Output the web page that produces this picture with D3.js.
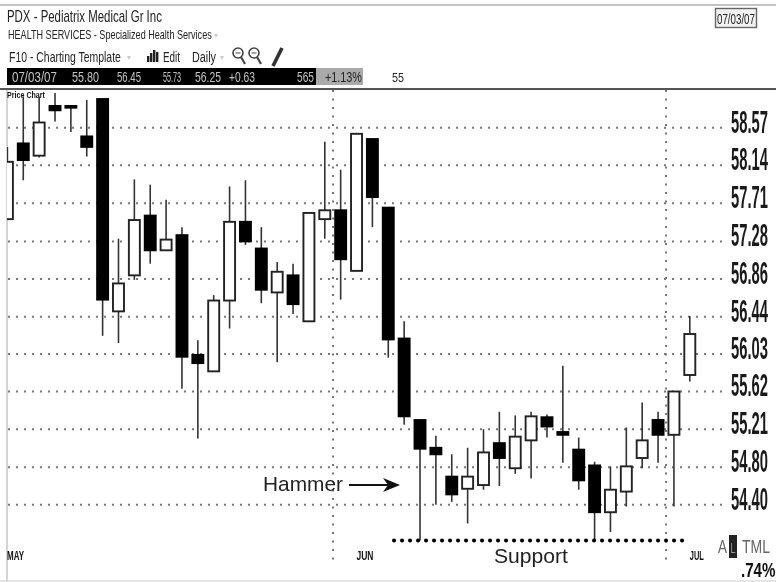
<!DOCTYPE html>
<html>
<head>
<meta charset="utf-8">
<script src="https://cdn.jsdelivr.net/npm/d3@7"></script>
<style>
    html, body { margin: 0; padding: 0; background: #fff; }
    svg { display: block; filter: blur(0.45px); }
</style>
</head>
<body>
<div id="chart"></div>
<script>
// Trading days shown, May 2 to Jul 3 2007
const days = ['05/02','05/03','05/04','05/07','05/08','05/09','05/10','05/11','05/14','05/15','05/16',
    '05/17','05/18','05/21','05/22','05/23','05/24','05/25','05/29','05/30','05/31',
    '06/01','06/04','06/05','06/06','06/07','06/08','06/11','06/12','06/13','06/14','06/15',
    '06/18','06/19','06/20','06/21','06/22','06/25','06/26','06/27','06/28','06/29',
    '07/02','07/03'];
const opens = [57.53,58.39,58.25,58.82,58.82,58.47,58.90,56.50,56.90,57.57,57.18,57.35,56.02,55.84,56.62,57.50,
    57.20,56.71,56.90,56.39,57.53,57.63,56.95,58.44,57.66,56.20,55.31,55.01,54.70,54.57,54.61,55.06,
    54.79,55.09,55.34,55.18,54.99,54.82,54.32,54.54,54.90,55.31,55.15,55.80];
const highs = [58.35,58.93,58.93,58.97,58.82,58.89,58.90,57.31,57.98,57.92,57.75,57.44,56.18,56.68,57.90,57.97,
    57.44,57.05,57.03,57.60,58.41,58.09,58.51,58.44,57.66,56.39,55.31,55.14,54.94,55.01,55.21,55.40,
    55.36,55.40,55.37,55.90,55.12,54.86,54.81,55.23,55.50,55.40,55.62,56.45];
const lows = [57.53,57.97,58.23,58.64,58.52,58.24,56.23,56.15,56.85,57.03,57.18,55.65,55.11,55.84,56.31,57.24,
    56.59,55.94,56.47,56.39,57.31,56.63,56.95,57.44,55.99,55.26,54.02,54.40,54.43,54.20,54.56,54.60,
    54.73,54.68,55.12,54.85,54.56,54.02,54.11,54.38,54.79,54.85,54.38,55.73];
const closes = [58.18,58.20,58.63,58.77,58.80,58.35,56.63,56.81,57.52,57.18,57.30,56.00,55.93,56.62,57.50,57.28,
    56.74,56.94,56.58,57.60,57.63,57.08,58.50,57.78,56.19,55.35,55.00,54.94,54.51,54.70,54.96,54.90,
    55.13,55.35,55.24,55.15,54.66,54.32,54.56,54.81,55.09,55.15,55.62,56.25];

const priceTicks = [58.57,58.14,57.71,57.28,56.86,56.44,56.03,55.62,55.21,54.80,54.40];
const monthLabels = ['MAY','JUN','JUL'];
const monthLabelDays = ['05/02','06/04','07/03'];
const monthEnds = ['05/31','06/29'];   // separator sits right after these days
const supportLevel = 54.02;

const width = 776, height = 582;
const plotLeft = 7, gridRight = 725;

const svg = d3.select('#chart').append('svg')
    .attr('width', width)
    .attr('height', height);

const x = d3.scalePoint().domain(days).range([7.4, 689.8]);
const y = d3.scaleLog().domain([54.40, 58.57]).range([504.7, 127.7]);

svg.append('defs').append('clipPath').attr('id', 'plot')
    .append('rect').attr('x', plotLeft).attr('y', 90).attr('width', width - plotLeft).attr('height', 490);

// Squeezed text, the original fonts are very condensed. Scale to the wanted width.
function label(px, py, str, size, len, opts = {}) {
    const t = svg.append('text')
        .attr('font-family', 'Liberation Sans, Arial, sans-serif')
        .attr('font-size', size)
        .attr('font-weight', opts.weight || 'normal')
        .attr('fill', opts.fill || '#222')
        .text(str);
    const sx = len ? len / t.node().getComputedTextLength() : 1;
    t.attr('transform', `translate(${px},${py}) scale(${sx},1)`);
    return t;
}

// Frame
svg.append('line').attr('x1', 0).attr('x2', width).attr('y1', 5).attr('y2', 5)
    .attr('stroke', '#888').attr('stroke-width', 1);
svg.append('line').attr('x1', plotLeft).attr('x2', plotLeft).attr('y1', 90).attr('y2', 581)
    .attr('stroke', '#aaa').attr('stroke-width', 1);
svg.append('line').attr('x1', 0).attr('x2', width).attr('y1', 581).attr('y2', 581)
    .attr('stroke', '#ccc').attr('stroke-width', 1);

// Header
label(7, 22, 'PDX - Pediatrix Medical Gr Inc', 16, 155);
label(8, 39, 'HEALTH SERVICES - Specialized Health Services', 12, 204);
label(9, 62, 'F10 - Charting Template', 14, 112);
label(163, 62, 'Edit', 14, 17);
label(192, 62, 'Daily', 14, 24);
label(214, 38, '▾', 8, null, { fill: '#ccc' });
label(127, 60, '▾', 8, null, { fill: '#ccc' });
label(220, 60, '▾', 8, null, { fill: '#ccc' });

// Toolbar icons
[[147, 6], [150, 9], [153, 12], [156, 10]].forEach(d => {
    svg.append('rect').attr('x', d[0]).attr('y', 62 - d[1]).attr('width', 2.4).attr('height', d[1])
        .attr('fill', '#222');
});
[238, 254].forEach(cx => {
    svg.append('circle').attr('cx', cx).attr('cy', 53).attr('r', 5)
        .attr('fill', 'none').attr('stroke', '#444').attr('stroke-width', 1.6);
    svg.append('line').attr('x1', cx + 3).attr('y1', 57).attr('x2', cx + 7).attr('y2', 64)
        .attr('stroke', '#444').attr('stroke-width', 2.2);
    svg.append('line').attr('x1', cx - 2.5).attr('y1', 53).attr('x2', cx + 2.5).attr('y2', 53)
        .attr('stroke', '#444').attr('stroke-width', 1);
});
svg.append('line').attr('x1', 273).attr('y1', 66).attr('x2', 282).attr('y2', 48)
    .attr('stroke', '#333').attr('stroke-width', 3.6);

// Date box
svg.append('rect').attr('x', 715.5).attr('y', 8.5).attr('width', 41).attr('height', 19)
    .attr('fill', '#f2f2f2').attr('stroke', '#666').attr('stroke-width', 1.4);
label(717, 24, '07/03/07', 15, 38);

// Quote strip
svg.append('rect').attr('x', 7).attr('y', 68).attr('width', 309).attr('height', 17).attr('fill', '#000');
svg.append('rect').attr('x', 316).attr('y', 68).attr('width', 47).attr('height', 17).attr('fill', '#aaa');
const quoteTexts = [
    [12, '07/03/07', 45], [72, '55.80', 27], [117, '56.45', 24], [163, '55.73', 18],
    [195, '56.25', 26], [229, '+0.63', 26], [297, '565', 17]
];
quoteTexts.forEach(d => label(d[0], 82, d[1], 14, d[2], { fill: '#c4c4c4' }));
label(325, 82, '+1.13%', 14, 37, { fill: '#222' });
label(392, 82, '55', 13, 12);

svg.append('line').attr('x1', 0).attr('x2', width).attr('y1', 89).attr('y2', 89)
    .attr('stroke', '#555').attr('stroke-width', 2);

label(7, 98, 'Price Chart', 9, 38, { weight: 'bold', fill: '#111' });

// Price gridlines
svg.append('g').selectAll('line').data(priceTicks).join('line')
    .attr('x1', plotLeft + 1)
    .attr('x2', gridRight)
    .attr('y1', d => y(d))
    .attr('y2', d => y(d))
    .attr('stroke', '#777')
    .attr('stroke-width', 2)
    .attr('stroke-dasharray', '2,6');

// Month separators
svg.append('g').selectAll('line').data(monthEnds).join('line')
    .attr('x1', d => Math.round(x(d) + x.step() / 2))
    .attr('x2', d => Math.round(x(d) + x.step() / 2))
    .attr('y1', 90)
    .attr('y2', 562)
    .attr('stroke', '#777')
    .attr('stroke-width', 2)
    .attr('stroke-dasharray', '2,6.5');

// Candles
const candles = svg.append('g').attr('clip-path', 'url(#plot)')
    .selectAll('g').data(days).join('g');
const bodyW = 11;

candles.append('line')
    .attr('x1', d => x(d))
    .attr('x2', d => x(d))
    .attr('y1', (d, i) => y(highs[i]))
    .attr('y2', (d, i) => y(lows[i]))
    .attr('stroke', '#333')
    .attr('stroke-width', 1.6);

candles.append('rect')
    .attr('x', d => x(d) - bodyW / 2)
    .attr('width', bodyW)
    .attr('y', (d, i) => y(Math.max(opens[i], closes[i])))
    .attr('height', (d, i) => Math.max(1, y(Math.min(opens[i], closes[i])) - y(Math.max(opens[i], closes[i]))))
    .attr('fill', (d, i) => closes[i] > opens[i] ? '#fff' : '#000')
    .attr('stroke', (d, i) => closes[i] > opens[i] ? '#222' : '#000')
    .attr('stroke-width', 1.9);

// Price labels
priceTicks.forEach(p => {
    label(731, y(p) + 5, p.toFixed(2), 32, 37, { fill: '#1a1a1a', weight: 'bold' });
});

// Month labels
monthLabels.forEach((m, i) => {
    const px = i === 0 ? 7 : x(monthLabelDays[i]);
    label(px, 560, m, 12, i === 2 ? 14 : 17, { weight: 'bold', fill: '#111' });
});

// Annotations
label(263, 491, 'Hammer', 20, 80, { fill: '#222' });
svg.append('line').attr('x1', 349).attr('x2', 392).attr('y1', 485).attr('y2', 485)
    .attr('stroke', '#111').attr('stroke-width', 2);
svg.append('path')
    .attr('d', 'M383,478 L400,485 L383,492 L388,485 Z')
    .attr('fill', '#111');

svg.append('line')
    .attr('x1', 394)
    .attr('x2', 686)
    .attr('y1', y(supportLevel))
    .attr('y2', y(supportLevel))
    .attr('stroke', '#000')
    .attr('stroke-width', 4)
    .attr('stroke-linecap', 'round')
    .attr('stroke-dasharray', '0.1,7.9');
label(494, 563, 'Support', 20, 74, { fill: '#222' });

// Bottom right corner
label(718, 553, 'A', 18, 9, { fill: '#666' });
svg.append('rect').attr('x', 729).attr('y', 535).attr('width', 8).attr('height', 23).attr('fill', '#222');
label(730.5, 553, 'L', 14, 5, { fill: '#999' });
label(742, 553, 'TML', 18, 28, { fill: '#666' });
label(741, 577, '.74%', 20, 34.5, { fill: '#111', weight: 'bold' });
</script>
</body>
</html>
